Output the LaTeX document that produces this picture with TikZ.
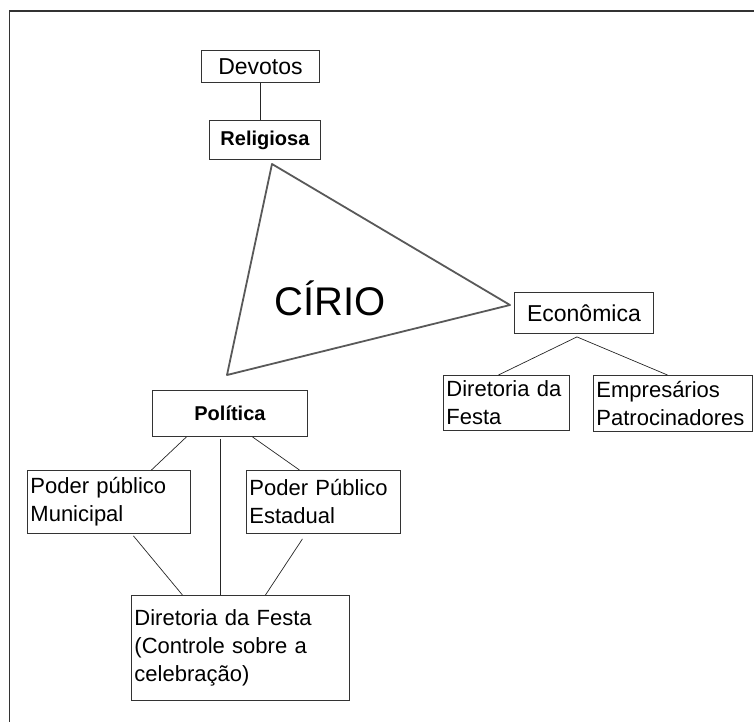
\documentclass[tikz,border=0pt]{standalone}
\usepackage{fontspec}
\setmainfont{Liberation Sans}
\begin{document}
\begin{tikzpicture}[x=1pt,y=-1pt,
  box/.style={draw=black!80, line width=0.9pt, anchor=north west, inner xsep=3pt, inner ysep=0pt,
     font=\fontsize{22}{28}\selectfont, align=left},
  titlebox/.style={box, align=center},
  conn/.style={draw=black!85, line width=0.7pt},
  tri/.style={draw=black!65, line width=1.8pt, line join=round}]
\useasboundingbox (0,0) rectangle (754,723);
% frame
\draw[black!80, line width=1.3pt] (754,11) -- (9.5,11) -- (9.5,722);
% boxes
\node[titlebox, font=\fontsize{23}{28}\selectfont, text width=112pt, minimum height=32pt] (dev) at (201,50) {Devotos};
\node[titlebox, font=\bfseries\fontsize{20}{26}\selectfont, text width=105pt, minimum height=39pt] (rel) at (209,120) {Religiosa};
\node[titlebox, font=\fontsize{23}{28}\selectfont, text width=133pt, minimum height=41pt] (eco) at (514,292) {Econômica};
\node[box, text width=120pt, minimum height=55pt] (dir) at (443,375) {Diretoria da\\Festa};
\node[box, text width=153pt, minimum height=56pt] (emp) at (593,375) {Empresários\\Patrocinadores};
\node[titlebox, font=\bfseries\fontsize{20}{26}\selectfont, text width=149pt, minimum height=46pt] (pol) at (152,390) {Política};
\node[box, text width=157pt, minimum height=63pt] (mun) at (27,470) {Poder público\\Municipal};
\node[box, text width=148pt, minimum height=63pt] (est) at (246,470) {Poder Público\\Estadual};
\node[box, text width=212pt, minimum height=105pt] (bot) at (131,595) {Diretoria da Festa\\(Controle sobre a\\celebração)};
% triangle
\coordinate (tA) at (272,164);
\coordinate (tB) at (510,305);
\coordinate (tC) at (227,375);
\draw[tri] (tA) -- (tB) -- (tC) -- cycle;
\node[font=\fontsize{40}{44}\selectfont, inner sep=0pt] (cirio) at (330.5,298) {CÍRIO};
% connectors
\draw[conn] (dev.south) -- ([xshift=-4.5pt]rel.north);
\draw[conn] ([xshift=-7pt,yshift=-3pt]eco.south) -- ([xshift=-8pt]dir.north);
\draw[conn] ([xshift=-7pt,yshift=-3pt]eco.south) -- ([xshift=-5.5pt]emp.north);
\draw[conn] ([xshift=-43.5pt]pol.south) -- ([xshift=42.5pt]mun.north);
\draw[conn] ([xshift=-9.5pt,yshift=-2pt]pol.south) -- ([xshift=-20pt]bot.north);
\draw[conn] ([xshift=22.5pt]pol.south) -- ([xshift=-24pt]est.north);
\draw[conn] ([xshift=24.5pt,yshift=-2pt]mun.south) -- ([xshift=-58pt]bot.north);
\draw[conn] ([xshift=-21pt,yshift=-5pt]est.south) -- ([xshift=25pt]bot.north);
\end{tikzpicture}
\end{document}
